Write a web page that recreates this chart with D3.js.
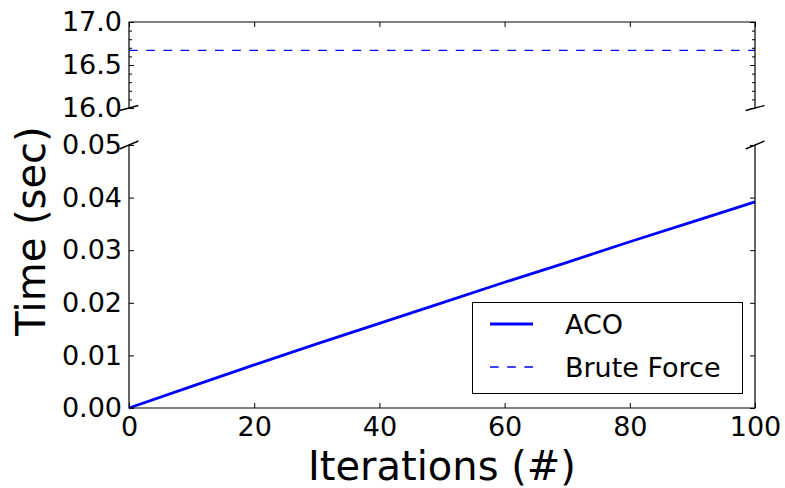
<!DOCTYPE html>
<html lang="en">
<head>
<meta charset="utf-8">
<title>ACO vs Brute Force</title>
<script src="https://d3js.org/d3.v7.min.js"></script>
<style>
  body { margin: 0; background: #fff; }
  svg text { font-family: "DejaVu Sans", sans-serif; fill: #000; }
</style>
</head>
<body>
<script>
// data
var iterations = [0, 10, 20, 30, 40, 50, 60, 70, 80, 90, 100];
var acoTime = [0, 0.0041, 0.0082, 0.0122, 0.0161, 0.0200, 0.0239, 0.0277, 0.0316, 0.0354, 0.0392];
var bruteIters = [0, 100];
var bruteTime = [16.67, 16.67];
var xTicks = [0, 20, 40, 60, 80, 100];
var topTicks = [16.0, 16.5, 17.0];
var topMinor = [16.1, 16.2, 16.3, 16.4, 16.6, 16.7, 16.8, 16.9];
var botTicks = [0, 0.01, 0.02, 0.03, 0.04, 0.05];

var W = 785, H = 488;
var svg = d3.select("body").append("svg")
    .attr("width", W).attr("height", H);

var x = d3.scaleLinear().domain([0, 100]).range([129, 755]);
var yTop = d3.scaleLinear().domain([16, 17]).range([108, 22]);
var yBot = d3.scaleLinear().domain([0, 0.05]).range([408, 145]);

var tickFont = "27px";

function styleAxis(g) {
    g.select(".domain").remove();
    g.selectAll(".tick line").attr("stroke", "#000").attr("stroke-width", 1);
    g.selectAll(".tick text").attr("fill", "#000")
        .style("font-size", tickFont).attr("font-family", "DejaVu Sans");
}

// ---- top panel ----
svg.append("g").attr("transform", "translate(129,0)")
    .call(d3.axisLeft(yTop).tickValues(topMinor).tickSize(-3).tickFormat(""))
    .call(styleAxis);
svg.append("g").attr("transform", "translate(755,0)")
    .call(d3.axisRight(yTop).tickValues(topMinor).tickSize(-3).tickFormat(""))
    .call(styleAxis);
svg.append("g").attr("transform", "translate(129,0)")
    .call(d3.axisLeft(yTop).tickValues(topTicks).tickSize(-5).tickPadding(7).tickFormat(d3.format(".1f")))
    .call(styleAxis);
svg.append("g").attr("transform", "translate(755,0)")
    .call(d3.axisRight(yTop).tickValues(topTicks).tickSize(-5).tickFormat(""))
    .call(styleAxis);
svg.append("g").attr("transform", "translate(0,22)")
    .call(d3.axisTop(x).tickValues(xTicks).tickSize(-5).tickFormat(""))
    .call(styleAxis);

// ---- bottom panel ----
svg.append("g").attr("transform", "translate(129,0)")
    .call(d3.axisLeft(yBot).tickValues(botTicks).tickSize(-5).tickPadding(7).tickFormat(d3.format(".2f")))
    .call(styleAxis);
svg.append("g").attr("transform", "translate(755,0)")
    .call(d3.axisRight(yBot).tickValues(botTicks).tickSize(-5).tickFormat(""))
    .call(styleAxis);
svg.append("g").attr("transform", "translate(0,408)")
    .call(d3.axisBottom(x).tickValues(xTicks).tickSize(-5).tickPadding(9).tickFormat(d3.format("d")))
    .call(styleAxis);

// ---- data lines ----
var bruteLine = d3.line()
    .x(function (d, i) { return x(bruteIters[i]); })
    .y(function (d) { return yTop(d); });
svg.append("path")
    .datum(bruteTime)
    .attr("d", bruteLine)
    .attr("fill", "none")
    .attr("stroke", "#0000ff")
    .attr("stroke-width", 1.4)
    .attr("stroke-dasharray", "8.6,8.6");

var acoLine = d3.line()
    .x(function (d, i) { return x(iterations[i]); })
    .y(function (d) { return yBot(d); });
svg.append("path")
    .datum(acoTime)
    .attr("d", acoLine)
    .attr("fill", "none")
    .attr("stroke", "#0000ff")
    .attr("stroke-width", 2.8);

// ---- spines ----
var spine = svg.append("g").attr("stroke", "#000").attr("stroke-width", 1.2).attr("fill", "none");
spine.append("path").attr("d",
    "M" + x(0) + "," + yTop(16) + "V" + yTop(17) + "H" + x(100) + "V" + yTop(16));
spine.append("path").attr("d",
    "M" + x(0) + "," + yBot(0.05) + "V" + yBot(0) + "H" + x(100) + "V" + yBot(0.05));

// break marks
var brk = [
    { px: x(0), py: yTop(16), dy: 2.5 },
    { px: x(100), py: yTop(16), dy: 2.5 },
    { px: x(0), py: yBot(0.05), dy: 4 },
    { px: x(100), py: yBot(0.05), dy: 4 }
];
spine.selectAll(".brk").data(brk).enter().append("line")
    .attr("x1", function (d) { return d.px - 9.4; })
    .attr("y1", function (d) { return d.py + d.dy; })
    .attr("x2", function (d) { return d.px + 9.4; })
    .attr("y2", function (d) { return d.py - d.dy; })
    .attr("stroke-width", 1.4);

// ---- axis labels ----
svg.append("text")
    .attr("x", (x(0) + x(100)) / 2)
    .attr("y", 480)
    .attr("text-anchor", "middle")
    .style("font-size", "40px")
    .text("Iterations (#)");

svg.append("text")
    .attr("transform", "translate(45,231) rotate(-90)")
    .attr("text-anchor", "middle")
    .style("font-size", "40px")
    .text("Time (sec)");

// ---- legend ----
var lg = svg.append("g");
lg.append("rect")
    .attr("x", 472.5).attr("y", 302.5)
    .attr("width", 270).attr("height", 91)
    .attr("fill", "#fff").attr("stroke", "#000").attr("stroke-width", 1);
var legendItems = [
    { label: "ACO", width: 2.8, dash: null, y: 324 },
    { label: "Brute Force", width: 1.4, dash: "8.6,8.6", y: 367 }
];
legendItems.forEach(function (d) {
    lg.append("line")
        .attr("x1", 490).attr("x2", 533)
        .attr("y1", d.y).attr("y2", d.y)
        .attr("stroke", "#0000ff")
        .attr("stroke-width", d.width)
        .attr("stroke-dasharray", d.dash);
    lg.append("text")
        .attr("x", 565).attr("y", d.y)
        .attr("dy", "0.36em")
        .style("font-size", tickFont)
        .text(d.label);
});
</script>
</body>
</html>
